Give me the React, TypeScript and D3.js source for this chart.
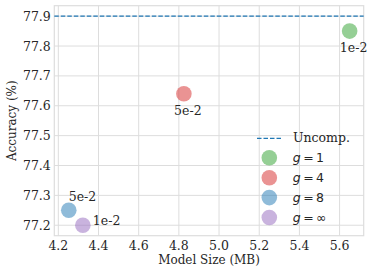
import React, { useEffect, useRef } from 'react';
import * as d3 from 'd3';

// data
const groups = ['1', '4', '8', '∞'];
const modelSize = [5.65, 4.825, 4.252, 4.322];
const accuracy = [77.85, 77.64, 77.25, 77.2];
const annotations = ['1e-2', '5e-2', '5e-2', '1e-2'];
const uncompressed = 77.9;
const xTicks = [4.2, 4.4, 4.6, 4.8, 5.0, 5.2, 5.4, 5.6];
const yTicks = [77.2, 77.3, 77.4, 77.5, 77.6, 77.7, 77.8, 77.9];

const colors = ['#2ca02c', '#d62728', '#1f77b4', '#9467bd'];
// where each annotation sits relative to its point (px)
const labelPlacement = [
  { dx: 4, dy: 21, anchor: 'middle' },
  { dx: 4, dy: 21, anchor: 'middle' },
  { dx: 0, dy: -9, anchor: 'start' },
  { dx: 10, dy: 0, anchor: 'start' },
];

const W = 374;
const H = 274;
const SERIF = '"DejaVu Serif", serif';
const SANS = '"DejaVu Sans", sans-serif';

export default function App() {
  const svgRef = useRef<SVGSVGElement>(null);

  useEffect(() => {
    if (!svgRef.current) return;
    const svg = d3.select(svgRef.current);
    svg.selectAll('*').remove();

    const margin = { top: 5.7, right: 10.3, bottom: 38.3, left: 54.3 };
    const innerW = W - margin.left - margin.right;
    const innerH = H - margin.top - margin.bottom;

    const x = d3.scaleLinear().domain([4.18, 5.72]).range([0, innerW]);
    const y = d3.scaleLinear().domain([77.165, 77.935]).range([innerH, 0]);

    const g = svg.append('g').attr('transform', `translate(${margin.left},${margin.top})`);

    // grid
    g.append('g')
      .selectAll('line')
      .data(xTicks)
      .enter().append('line')
      .attr('x1', d => x(d)).attr('x2', d => x(d))
      .attr('y1', 0).attr('y2', innerH)
      .attr('stroke', '#dddddd').attr('stroke-width', 1);
    g.append('g')
      .selectAll('line')
      .data(yTicks)
      .enter().append('line')
      .attr('y1', d => y(d)).attr('y2', d => y(d))
      .attr('x1', 0).attr('x2', innerW)
      .attr('stroke', '#dddddd').attr('stroke-width', 1);

    g.append('rect')
      .attr('width', innerW).attr('height', innerH)
      .attr('fill', 'none').attr('stroke', '#dddddd').attr('stroke-width', 1.2);

    // tick labels
    g.append('g')
      .selectAll('text')
      .data(xTicks)
      .enter().append('text')
      .attr('x', d => x(d))
      .attr('y', innerH + 14)
      .attr('text-anchor', 'middle')
      .attr('font-family', SERIF).attr('font-size', 12.5).attr('fill', '#262626')
      .text(d => d3.format('.1f')(d));
    g.append('g')
      .selectAll('text')
      .data(yTicks)
      .enter().append('text')
      .attr('x', -3.5)
      .attr('y', d => y(d))
      .attr('dy', '0.36em')
      .attr('text-anchor', 'end')
      .attr('font-family', SERIF).attr('font-size', 12.5).attr('fill', '#262626')
      .text(d => d3.format('.1f')(d));

    // axis labels
    svg.append('text')
      .attr('x', margin.left + innerW / 2)
      .attr('y', 263.5)
      .attr('text-anchor', 'middle')
      .attr('font-family', SERIF).attr('font-size', 12).attr('fill', '#262626')
      .text('Model Size (MB)');
    svg.append('text')
      .attr('transform', `translate(16,${margin.top + innerH / 2}) rotate(-90)`)
      .attr('text-anchor', 'middle')
      .attr('font-family', SERIF).attr('font-size', 12).attr('fill', '#262626')
      .text('Accuracy (%)');

    // uncompressed baseline
    g.append('line')
      .attr('x1', 0).attr('x2', innerW)
      .attr('y1', y(uncompressed)).attr('y2', y(uncompressed))
      .attr('stroke', '#1f77b4').attr('stroke-width', 1.3)
      .attr('stroke-dasharray', '4.5,2');

    // points
    g.append('g')
      .selectAll('circle')
      .data(groups)
      .enter().append('circle')
      .attr('cx', (_, i) => x(modelSize[i]))
      .attr('cy', (_, i) => y(accuracy[i]))
      .attr('r', 7.8)
      .attr('fill', (_, i) => colors[i])
      .attr('fill-opacity', 0.5);

    g.append('g')
      .selectAll('text')
      .data(annotations)
      .enter().append('text')
      .attr('x', (_, i) => x(modelSize[i]) + labelPlacement[i].dx)
      .attr('y', (_, i) => y(accuracy[i]) + labelPlacement[i].dy)
      .attr('text-anchor', (_, i) => labelPlacement[i].anchor)
      .attr('font-family', SERIF).attr('font-size', 12.5).attr('fill', '#262626')
      .text(d => d);

    // legend
    const lg = svg.append('g').attr('transform', 'translate(257,138.3)');
    lg.append('line')
      .attr('x1', 0).attr('x2', 25).attr('y1', 0).attr('y2', 0)
      .attr('stroke', '#1f77b4').attr('stroke-width', 1.3)
      .attr('stroke-dasharray', '4.5,2');
    lg.append('text')
      .attr('x', 36).attr('y', 0).attr('dy', '0.32em')
      .attr('font-family', SERIF).attr('font-size', 12.5).attr('fill', '#262626')
      .text('Uncomp.');
    const rows = lg.selectAll('g.row')
      .data(groups)
      .enter().append('g')
      .attr('class', 'row')
      .attr('transform', (_, i) => `translate(0,${19.5 + i * 19.9})`);
    rows.append('circle')
      .attr('cx', 12.3).attr('cy', 0).attr('r', 7.8)
      .attr('fill', (_, i) => colors[i]).attr('fill-opacity', 0.5);
    const t = rows.append('text')
      .attr('x', 35.7).attr('y', 0).attr('dy', '0.36em')
      .attr('font-family', SANS).attr('font-size', 12.5).attr('fill', '#262626');
    t.append('tspan').attr('font-style', 'italic').text('g');
    t.append('tspan').attr('dx', 2.5).text('=');
    t.append('tspan').attr('dx', 2.5).text(d => d);
  }, []);

  return (
    <div style={{ position: 'absolute', left: 0, top: 0, background: '#fff' }}>
      <svg ref={svgRef} width={W} height={H} />
    </div>
  );
}
